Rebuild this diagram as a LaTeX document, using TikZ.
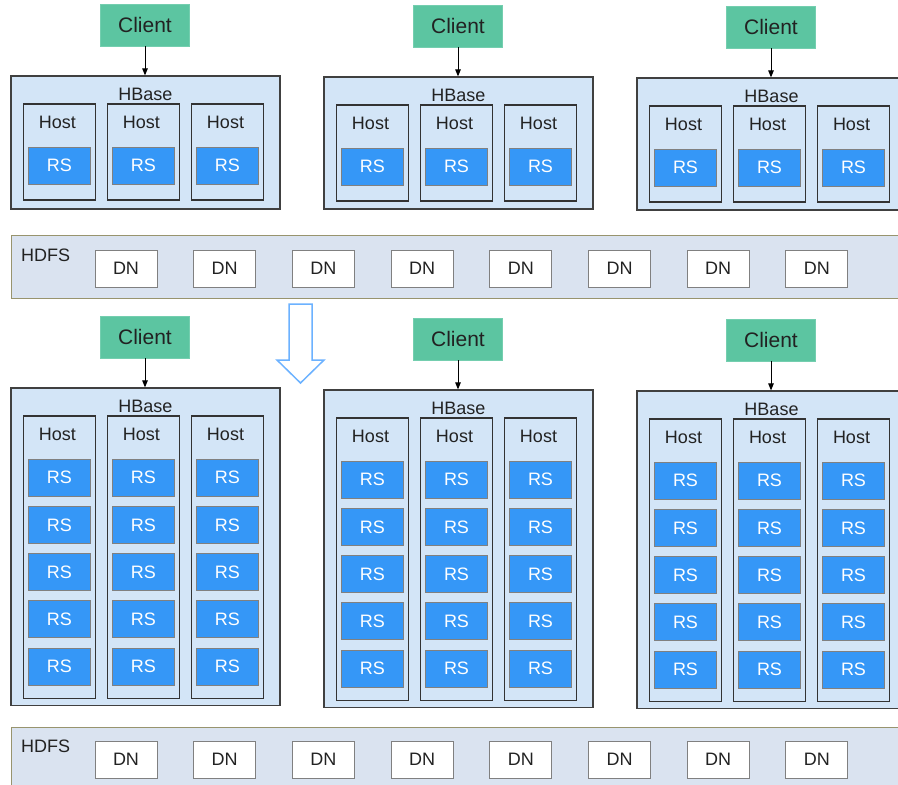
\documentclass[tikz,border=0pt]{standalone}
\usepackage{fontspec}
\setmainfont{Liberation Sans}
\usetikzlibrary{arrows.meta}
\definecolor{clientgreen}{HTML}{5CC5A1}
\definecolor{rsblue}{HTML}{3597F7}
\definecolor{hbasefill}{HTML}{D3E5F7}
\definecolor{hdfsfill}{HTML}{DAE3F0}
\definecolor{txt}{HTML}{222222}
\definecolor{bigarrow}{HTML}{6CB2FF}
\tikzset{
  clientbox/.style={fill=clientgreen, draw=clientgreen!85!white, line width=0.8pt, minimum width=89pt, minimum height=42pt, inner sep=0pt, font=\fontsize{21}{23}\selectfont, text=txt},
  hbasebox/.style={fill=hbasefill, draw=black!75, line width=1.2pt, minimum width=269pt, inner sep=0pt},
  hostbox/.style={draw=black!80, line width=1.2pt, minimum width=72pt, inner sep=0pt},
  rsbox/.style={fill=rsblue, draw=black!50, line width=1pt, minimum width=62pt, minimum height=37pt, inner sep=0pt, text=white, font=\fontsize{18}{20}\selectfont},
  dnbox/.style={fill=white, draw=black!50, line width=1pt, minimum width=62pt, minimum height=37pt, inner sep=0pt, text=txt, font=\fontsize{18}{20}\selectfont},
  hdfsbox/.style={fill=hdfsfill, draw=black!55!olive!60, line width=1.2pt, inner sep=0pt},
  lbl/.style={inner sep=0pt, text=txt, font=\fontsize{18}{20}\selectfont},
  conn/.style={draw=black, line width=1pt, -{Triangle[length=7pt,width=5.5pt]}},
}
% #1 name, #2 x, #3 y, #4 number of RS, #5 host margin below last RS, #6 HBase margin below host
\newcommand\mkcluster[6]{%
\begin{scope}[shift={(#2,#3)}]
\pgfmathsetmacro\hostbot{89.5+(#4-1)*47.3+18.5+#5}
\pgfmathsetmacro\hbh{\hostbot+#6}
\pgfmathsetmacro\hostmid{(28+\hostbot)/2}
\pgfmathsetmacro\hosth{\hostbot-28}
\node[hbasebox, minimum height=\hbh pt] (#1hb) at (134.5,\hbh/2) {};
\node[lbl] (#1lbl) at (134.5,18) {HBase};
\node[clientbox] (#1c) at (134,-51) {Client};
\draw[conn] (#1c.south) -- (#1c.south |- #1hb.north);
\foreach \hx [count=\k] in {48.5,132.5,216.5} {
  \node[hostbox, minimum height=\hosth pt] (#1h\k) at (\hx,\hostmid) {};
  \node[lbl] (#1h\k l) at (\hx-2,46) {Host};
  \foreach \r in {1,...,#4} {
    \node[rsbox] (#1h\k r\r) at (\hx,{89.5+(\r-1)*47.3}) {RS};
  }
}
\end{scope}}
\begin{document}
\begin{tikzpicture}[x=1pt,y=-1pt]
\clip (0,0) rectangle (898,785);
\fill[white] (0,0) rectangle (898,785);
\mkcluster{tl}{11}{76}{1}{16}{9}
\mkcluster{tm}{324}{77}{1}{16}{8}
\mkcluster{tr}{637}{78}{1}{16}{8}
\node[hdfsbox, minimum width=920pt, minimum height=63pt, anchor=north west] (hdfsA) at (11,235) {};
\node[lbl, anchor=west] (hdfsAl) at (21,255) {HDFS};
\foreach \i in {0,...,7} {
  \node[dnbox] (hdfsAdn\i) at ({126+98.7*\i},268.5) {DN};
}
\draw[bigarrow, line width=1.5pt, fill=white, line join=miter]
  (289,304) -- (312,304) -- (312,360) -- (324,360) -- (300.5,383) -- (277,360) -- (289,360) -- cycle;
\mkcluster{bl}{11}{388}{5}{13}{7}
\mkcluster{bm}{324}{390}{5}{13}{7}
\mkcluster{br}{637}{391}{5}{13}{7}
\node[hdfsbox, minimum width=920pt, minimum height=80pt, anchor=north west] (hdfsB) at (11,727) {};
\node[lbl, anchor=west] (hdfsBl) at (21,746) {HDFS};
\foreach \i in {0,...,7} {
  \node[dnbox] (hdfsBdn\i) at ({126+98.7*\i},759.5) {DN};
}
\end{tikzpicture}
\end{document}
